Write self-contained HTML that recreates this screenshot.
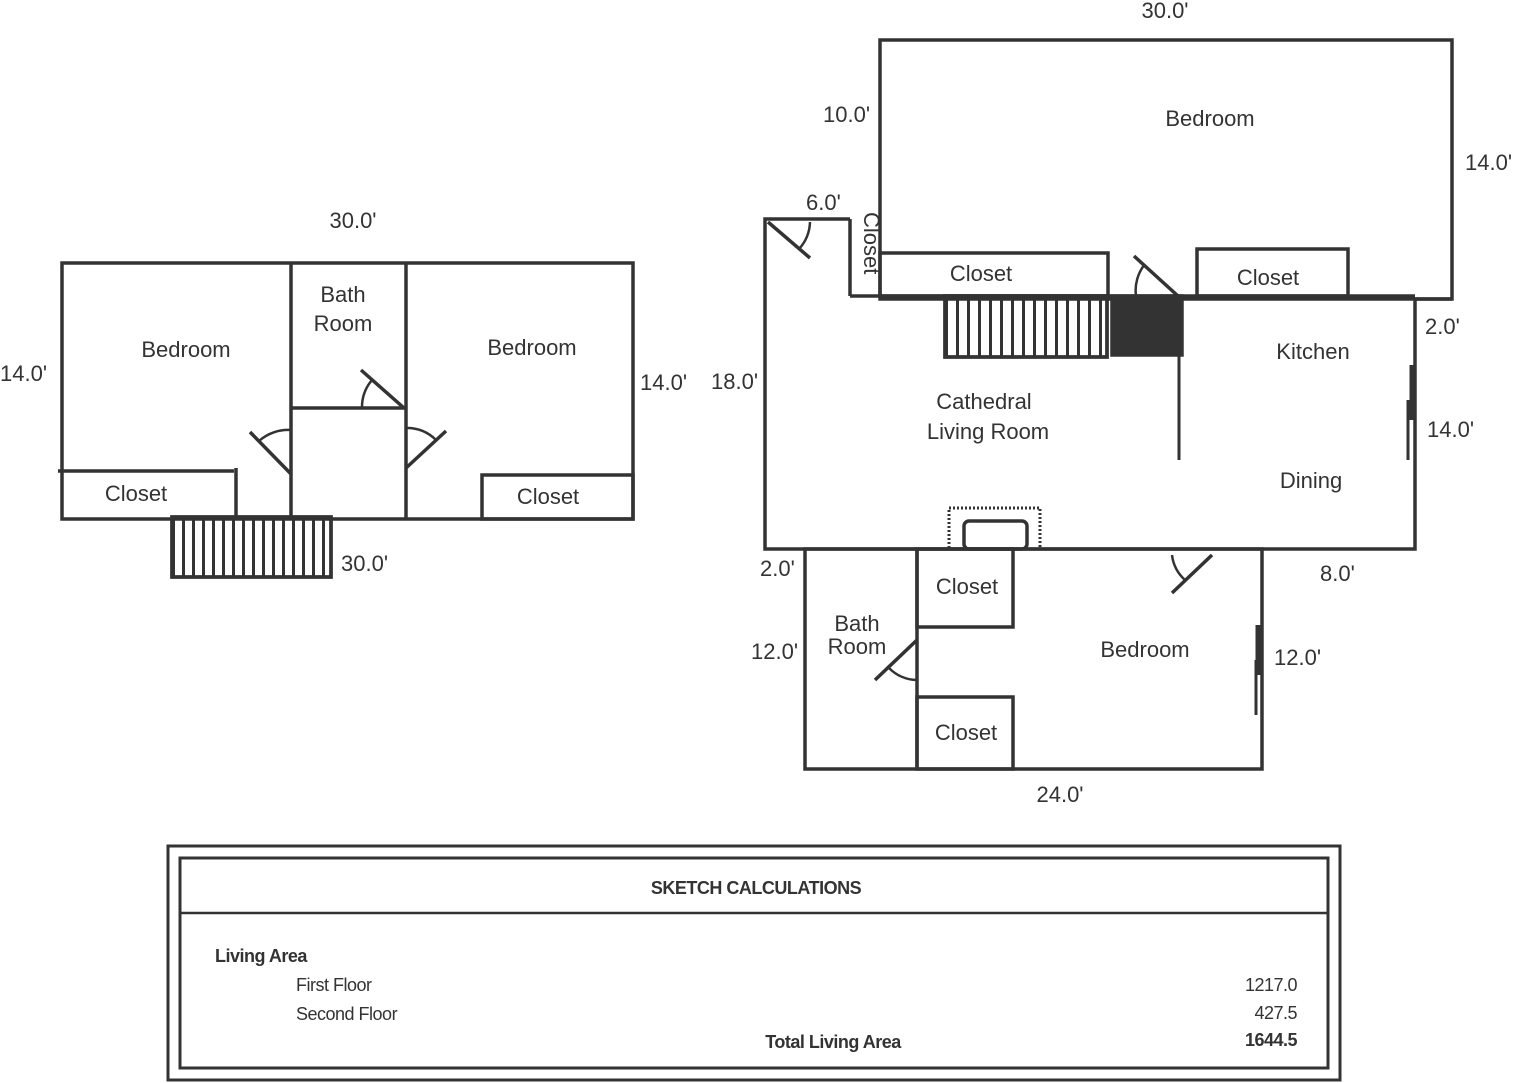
<!DOCTYPE html>
<html><head><meta charset="utf-8"><style>
html,body{margin:0;padding:0;background:#fff;}
svg{display:block;}
text{font-family:"Liberation Sans",Arial,sans-serif;fill:#333;}
</style></head><body>
<svg width="1515" height="1083" viewBox="0 0 1515 1083" xmlns="http://www.w3.org/2000/svg">
<defs>
<pattern id="st1" x="172" y="0" width="10" height="10" patternUnits="userSpaceOnUse"><line x1="1.5" y1="0" x2="1.5" y2="10" stroke="#333" stroke-width="3"/></pattern>
<pattern id="st2" x="945" y="0" width="11" height="10" patternUnits="userSpaceOnUse"><line x1="1.5" y1="0" x2="1.5" y2="10" stroke="#333" stroke-width="3"/></pattern>
</defs>
<g stroke="#333" stroke-width="3.5" fill="none">
<rect x="62" y="263" width="571" height="256"/>
<line x1="291" y1="263" x2="291" y2="519"/>
<line x1="406" y1="263" x2="406" y2="519"/>
<line x1="291" y1="408" x2="406" y2="408"/>
<line x1="58" y1="471" x2="234" y2="471"/>
<line x1="236" y1="468" x2="236" y2="519"/>
<rect x="482" y="475" width="151" height="44"/>
<line x1="404" y1="408" x2="361" y2="370"/>
<path d="M362 408 A42 42 0 0 1 372 380" stroke-width="2.5"/>
<line x1="291" y1="474" x2="250" y2="432"/>
<path d="M291 430 A44 44 0 0 0 259 441" stroke-width="2.5"/>
<line x1="406" y1="468" x2="446" y2="431"/>
<path d="M406 428 A40 40 0 0 1 436 440" stroke-width="2.5"/>
<rect x="172" y="517" width="159" height="60" fill="url(#st1)"/>
<rect x="172" y="517" width="159" height="60"/>

<rect x="880" y="40" width="572" height="259"/>
<polyline points="850,219 765,219 765,549 1415,549 1415,299 1452,299"/>
<line x1="850" y1="296" x2="1415" y2="296"/>
<line x1="850" y1="219" x2="850" y2="296"/>
<rect x="880" y="253" width="228" height="43"/>
<rect x="1197" y="249" width="151" height="47"/>
<rect x="945" y="296" width="162" height="61" fill="url(#st2)"/>
<rect x="945" y="296" width="162" height="61"/>
<rect x="1112" y="296" width="70" height="59" fill="#333"/>
<line x1="1179" y1="355" x2="1179" y2="460" stroke-width="3"/>
<line x1="1178" y1="296" x2="1134" y2="256"/>
<path d="M1136 296 A42 42 0 0 1 1145 264" stroke-width="2.5"/>
<line x1="768" y1="222" x2="810" y2="258"/>
<path d="M810 222 A42 42 0 0 1 799 249" stroke-width="2.5"/>
<line x1="1412" y1="365" x2="1412" y2="420" stroke-width="5"/>
<line x1="1408" y1="400" x2="1408" y2="460" stroke-width="3"/>
<rect x="949" y="508" width="91" height="41" stroke-dasharray="2 2" stroke-width="3"/>
<rect x="964" y="521" width="63" height="28" rx="5"/>

<rect x="805" y="549" width="457" height="220"/>
<line x1="917" y1="549" x2="917" y2="769"/>
<rect x="917" y="549" width="96" height="78"/>
<rect x="917" y="697" width="96" height="72"/>
<line x1="917" y1="640" x2="875" y2="680"/>
<path d="M917 680 A40 40 0 0 1 889 668" stroke-width="2.5"/>
<line x1="1212" y1="555" x2="1172" y2="593"/>
<path d="M1172 555 A40 40 0 0 0 1185 580" stroke-width="2.5"/>
<line x1="1258" y1="625" x2="1258" y2="675" stroke-width="5"/>
<line x1="1256" y1="660" x2="1256" y2="715" stroke-width="3"/>

<rect x="168" y="846" width="1172" height="234" stroke-width="3"/>
<rect x="180" y="858" width="1148" height="210" stroke-width="3"/>
<line x1="180" y1="913" x2="1328" y2="913" stroke-width="2.5"/>
</g>

<g font-size="22">
<text x="353" y="228" text-anchor="middle">30.0'</text>
<text x="0" y="381">14.0'</text>
<text x="640" y="390">14.0'</text>
<text x="341" y="571">30.0'</text>
<text x="186" y="357" text-anchor="middle">Bedroom</text>
<text x="343" y="302" text-anchor="middle">Bath</text>
<text x="343" y="331" text-anchor="middle">Room</text>
<text x="532" y="355" text-anchor="middle">Bedroom</text>
<text x="136" y="501" text-anchor="middle">Closet</text>
<text x="548" y="504" text-anchor="middle">Closet</text>

<text x="1165" y="18" text-anchor="middle">30.0'</text>
<text x="823" y="122">10.0'</text>
<text x="1210" y="126" text-anchor="middle">Bedroom</text>
<text x="1465" y="170">14.0'</text>
<text x="806" y="210">6.0'</text>
<text x="981" y="281" text-anchor="middle">Closet</text>
<text x="1268" y="285" text-anchor="middle">Closet</text>
<text x="1425" y="334">2.0'</text>
<text x="1313" y="359" text-anchor="middle">Kitchen</text>
<text x="711" y="389">18.0'</text>
<text x="984" y="409" text-anchor="middle">Cathedral</text>
<text x="988" y="439" text-anchor="middle">Living Room</text>
<text x="1427" y="437">14.0'</text>
<text x="1311" y="488" text-anchor="middle">Dining</text>
<text x="760" y="576">2.0'</text>
<text x="1320" y="581">8.0'</text>
<text x="967" y="594" text-anchor="middle">Closet</text>
<text x="857" y="631" text-anchor="middle">Bath</text>
<text x="857" y="654" text-anchor="middle">Room</text>
<text x="751" y="659">12.0'</text>
<text x="1145" y="657" text-anchor="middle">Bedroom</text>
<text x="1274" y="665">12.0'</text>
<text x="966" y="740" text-anchor="middle">Closet</text>
<text x="1060" y="802" text-anchor="middle">24.0'</text>
<text transform="translate(864,212) rotate(90)">Closet</text>
</g>

<g font-size="18" style="letter-spacing:-0.5px">
<text x="756" y="894" text-anchor="middle" font-weight="bold">SKETCH CALCULATIONS</text>
<text x="215" y="962" font-weight="bold">Living Area</text>
<text x="296" y="991">First Floor</text>
<text x="296" y="1020">Second Floor</text>
<text x="833" y="1048" text-anchor="middle" font-weight="bold">Total Living Area</text>
<text x="1297" y="991" text-anchor="end">1217.0</text>
<text x="1297" y="1019" text-anchor="end">427.5</text>
<text x="1297" y="1046" text-anchor="end" font-weight="bold">1644.5</text>
</g>
</svg>
</body></html>
